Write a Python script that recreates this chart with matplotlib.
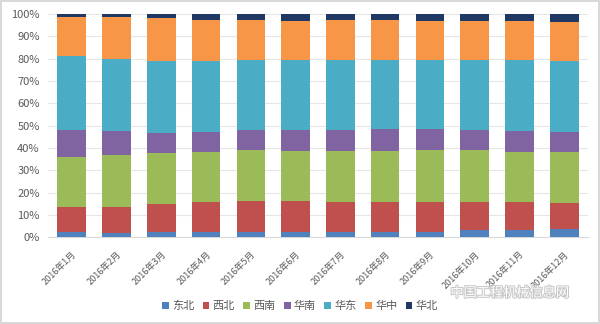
import matplotlib
matplotlib.use('Agg')
import matplotlib.pyplot as plt
import matplotlib.patheffects as pe
import numpy as np

plt.rcParams['font.family'] = ['Noto Sans CJK SC', 'DejaVu Sans']

# 月份
months = ['2016年%d月' % m for m in range(1, 13)]

# 各区域占比 (%)
dongbei = [2.2, 1.7, 2.2, 2.5, 2.5, 2.5, 2.5, 2.5, 2.5, 3.0, 3.3, 3.5]
xibei = [11.2, 12.0, 12.7, 13.4, 13.8, 13.8, 13.4, 13.4, 13.4, 12.9, 12.6, 12.0]
xinan = [22.7, 23.3, 23.0, 22.4, 22.8, 22.5, 22.9, 22.9, 23.2, 23.2, 22.4, 22.8]
huanan = [11.9, 10.6, 8.7, 9.0, 8.9, 9.2, 9.2, 9.6, 9.3, 8.9, 9.3, 8.7]
huadong = [33.2, 32.2, 32.2, 31.5, 31.2, 31.2, 31.2, 30.8, 30.8, 31.2, 31.6, 31.8]
huazhong = [17.3, 19.0, 19.2, 18.4, 18.0, 17.8, 18.0, 18.0, 17.8, 17.8, 17.5, 17.5]
huabei = [1.5, 1.2, 2.0, 2.8, 2.8, 3.0, 2.8, 2.8, 3.0, 3.0, 3.3, 3.7]

series = [('东北', dongbei, '#4f81bd'),
          ('西北', xibei, '#c0504d'),
          ('西南', xinan, '#9bbb59'),
          ('华南', huanan, '#8064a2'),
          ('华东', huadong, '#4bacc6'),
          ('华中', huazhong, '#f79646'),
          ('华北', huabei, '#1f3864')]

fig = plt.figure(figsize=(6, 3.24), dpi=100)
fig.patch.set_edgecolor('#d9d9d9')
fig.patch.set_linewidth(1.5)
ax = fig.add_axes([0.08, 0.268, 0.9, 0.689])

x = np.arange(len(months))
data = np.array([s[1] for s in series], dtype=float)
data = data / data.sum(axis=0) * 100
bottom = np.zeros(len(months))
for (name, _, color), vals in zip(series, data):
    ax.bar(x, vals, 0.64, bottom=bottom, color=color, label=name, zorder=3)
    bottom += vals

ax.set_xlim(-0.53, 11.53)
ax.set_ylim(0, 100)
ax.set_yticks(range(0, 101, 10))
ax.set_yticklabels(['%d%%' % v for v in range(0, 101, 10)], fontsize=8, color='#595959')
ax.set_xticks(x)
ax.set_xticklabels(months, rotation=45, ha='right', rotation_mode='anchor',
                   fontsize=6.5, color='#595959')
ax.tick_params(axis='y', length=0, pad=6)
ax.tick_params(axis='x', length=0, pad=9)
ax.grid(axis='y', color='#e6e6e6', linewidth=0.8, zorder=0)
for sp in ['top', 'right', 'left']:
    ax.spines[sp].set_visible(False)
ax.spines['bottom'].set_color('#d9d9d9')

fig.legend(loc='center', bbox_to_anchor=(0.5, 0.056), ncol=7, frameon=False,
           fontsize=8, handlelength=0.6, handleheight=0.6, handletextpad=0.3,
           columnspacing=0.75, labelcolor='#595959')

fig.text(0.85, 0.095, '中国工程机械信息网', fontsize=9.5, color='white',
         ha='center', va='center',
         path_effects=[pe.withStroke(linewidth=1.5, foreground='#c8c8c8')])

fig.savefig('out.png', dpi=100)
